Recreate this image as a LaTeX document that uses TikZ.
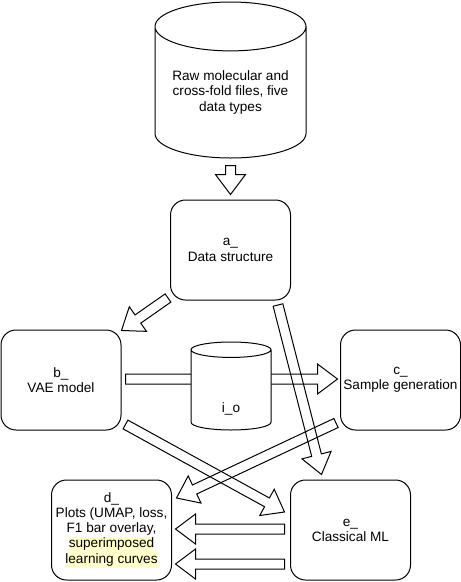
\documentclass[tikz,border=0pt]{standalone}
\usepackage{fontspec}
\setmainfont{Liberation Sans}
\usetikzlibrary{shapes.geometric,calc}
\usetikzlibrary{positioning}
\definecolor{hlyellow}{HTML}{FFFFCC}
\tikzset{
    block/.style={
           rectangle,
           rounded corners=15pt,
           draw=black, line width=1pt,
           fill=white,
           minimum width=120pt,
           minimum height=100pt,
           inner sep=0pt,
           align=center,
           },
    drum/.style={
           cylinder,
           shape border rotate=90,
           draw=black, line width=1pt,
           fill=white,
           inner sep=0pt,
           align=center,
           },
    hollow arrow/.style={draw=black, line width=1pt, line join=miter},
}
% highlighted line of text
\newcommand{\hl}[1]{{\setlength{\fboxsep}{0pt}\colorbox{hlyellow}{\strut #1}}}
% wide hollow arrow from tail point to tip point
\newcommand{\hollow}[2]{%
  \coordinate (tl) at (#1);
  \coordinate (tp) at (#2);
  \coordinate (nk) at ($(tp)!20pt!(tl)$);
  \draw[hollow arrow] ($(tl)!5pt!90:(tp)$) -- ($(nk)!5pt!90:(tp)$)
   -- ($(nk)!15pt!90:(tp)$) -- (tp) -- ($(nk)!15pt!-90:(tp)$)
   -- ($(nk)!5pt!-90:(tp)$) -- ($(tl)!5pt!-90:(tp)$) -- cycle;
}

\begin{document}
\begin{tikzpicture}[x=1pt,y=-1pt,font=\fontsize{13.6}{15.2}\selectfont]
 \useasboundingbox (0,0) rectangle (461,582);

 % Data structure, top of the middle column
 \node[block] (a) at (230.5,250) {a\_\\Data structure};

 % the raw files above it
 \node[drum,
  minimum width=151pt,
  minimum height=156pt,
  aspect=0.42,
  anchor=shape center] (raw) at (230.5,80)
  {Raw molecular and\\cross-fold files, five\\data types};

 % second row
 \node[block,
  below of=a,
  xshift=-169.5pt,
  node distance=130pt] (b) {b\_\\VAE model};
 \node[block,
  right of=b,
  node distance=339.5pt] (c) {c\_\\Sample generation};

 % bottom row
 \node[block,
  below of=b,
  xshift=50.5pt,
  node distance=150pt] (d)
 {d\_\\Plots (UMAP, loss,\\F1 bar overlay,\\\hl{superimposed}\\\hl{learning curves}};
 \node[block,
  right of=d,
  node distance=239pt] (e) {e\_\\Classical ML};

 % VAE model to sample generation, passes behind i_o
 \hollow{$(b.east)+(4,-1)$}{$(c.west)+(-2.5,-1)$}

 % text sits low in the body
 \node[drum,
  minimum width=80pt,
  minimum height=88pt,
  aspect=0.85,
  anchor=shape center] (io) at (231,386) {\raisebox{-22pt}[0pt][0pt]{i\_o}};

 % the other arrows
 \hollow{$(raw.south)+(0,7)$}{$(a.north)+(0,-5)$}
 \hollow{$(a.south west)+(-2,-2.5)$}{$(b.north east)+(0,1)$}
 \hollow{$(a.south east)+(-13,4.5)$}{$(e.north west)+(31.5,-5)$}
 \hollow{$(b.south east)+(4,-6)$}{$(e.west)+(-5.5,-18)$}
 \hollow{$(c.south west)+(-4,-7.5)$}{$(d.east)+(4.5,-32)$}
 \hollow{$(e.west)+(-5.5,-1)$}{$(d.east)+(3.5,-1)$}
 \hollow{$(e.west)+(-5.5,34)$}{$(d.east)+(3.5,34)$}

\end{tikzpicture}
\end{document}
